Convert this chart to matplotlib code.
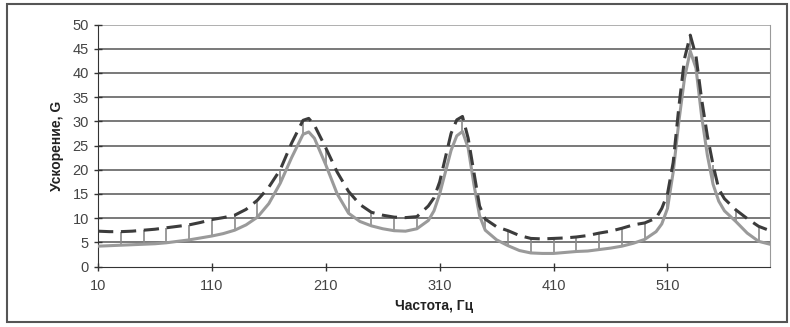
import matplotlib.pyplot as plt
from matplotlib.patches import Rectangle
import numpy as np

plt.rcParams['font.family'] = ['Liberation Sans', 'DejaVu Sans']

# frequency, Hz
freq = [10, 20, 30, 40, 50, 60, 70, 80, 90, 100, 110, 120, 130, 140, 150, 160,
        170, 180, 190, 195, 200, 210, 220, 230, 240, 250, 260, 270, 280, 290,
        300, 305, 310, 315, 320, 325, 330, 335, 340, 345, 350, 360, 370, 380,
        390, 400, 410, 420, 430, 440, 450, 460, 470, 480, 490, 500, 505, 510,
        515, 520, 525, 530, 535, 540, 545, 550, 555, 560, 570, 580, 590, 600]

# lower curve (solid grey)
accel_a = [4.2, 4.3, 4.4, 4.5, 4.6, 4.7, 4.9, 5.2, 5.5, 5.9, 6.3, 6.8, 7.5, 8.6, 10.2, 13.0,
           17.2, 22.5, 27.3, 27.8, 26.5, 21.0, 15.0, 11.0, 9.3, 8.4, 7.8, 7.4, 7.3, 7.8,
           9.5, 11.5, 15.0, 19.5, 24.0, 27.0, 27.9, 24.5, 17.0, 10.5, 7.5, 5.5, 4.3, 3.3,
           2.8, 2.7, 2.7, 2.9, 3.1, 3.2, 3.5, 3.8, 4.2, 4.8, 5.6, 7.2, 8.8, 12.0,
           19.5, 30.0, 39.0, 44.5, 41.0, 31.0, 23.0, 17.0, 13.5, 11.5, 9.3, 6.9, 5.2, 4.6]

# upper curve (dashed)
accel_b = [7.3, 7.2, 7.2, 7.3, 7.5, 7.7, 8.0, 8.3, 8.6, 9.1, 9.7, 10.1, 10.6, 11.8, 13.7, 16.4,
           20.0, 25.5, 30.2, 30.6, 29.2, 24.5, 19.5, 15.5, 12.8, 11.2, 10.6, 10.2, 10.1, 10.3,
           12.5, 14.2, 17.5, 22.5, 27.5, 30.3, 31.0, 26.5, 19.5, 12.5, 9.8, 8.2, 7.4, 6.4,
           5.8, 5.7, 5.8, 5.9, 6.1, 6.4, 6.9, 7.3, 7.9, 8.6, 9.0, 10.0, 12.0, 15.0,
           21.5, 33.0, 43.0, 47.8, 43.5, 34.5, 27.0, 21.0, 16.0, 14.0, 11.7, 9.9, 8.3, 7.4]

x_ticks = [10, 110, 210, 310, 410, 510]
y_ticks = list(range(0, 51, 5))

fig = plt.figure(figsize=(7.9, 3.27), dpi=100)
fig.patches.append(Rectangle((7 / 790, 5 / 327), 780 / 790, 318 / 327, transform=fig.transFigure,
                             fill=False, edgecolor='#555555', linewidth=1.5))
ax = fig.add_axes([98 / 790, (327 - 266.5) / 327, 672 / 790, 242 / 327])

for y in y_ticks[1:]:
    ax.axhline(y, color='#9a9a9a' if y == 50 else '#555555', linewidth=1.1, zorder=1)

# high-low lines every 20 Hz
fa = np.array(freq)
mask = (fa - 10) % 20 == 0
mask &= (fa > 10) & (fa < 600)
ax.vlines(fa[mask], np.array(accel_a)[mask], np.array(accel_b)[mask],
          color='#8a8a8a', linewidth=1.2, zorder=2)

ax.plot(freq, accel_a, color='#9a9a9a', linewidth=2.2, zorder=3)
ax.plot(freq, accel_b, color='#3c3c3c', linewidth=2.2, dashes=(5, 2.5), zorder=4)

ax.set_xlim(10, 600)
ax.set_ylim(0, 50)
ax.set_xticks(x_ticks)
ax.set_yticks(y_ticks)
ax.tick_params(axis='both', direction='inout', length=6, width=1, color='#333333',
               labelsize=10.5, labelcolor='#444444')
ax.tick_params(axis='x', pad=6)
for side in ['top']:
    ax.spines[side].set_visible(False)
ax.spines['right'].set_color('#9a9a9a')
ax.spines['left'].set_color('#333333')
ax.spines['bottom'].set_color('#333333')

ax.set_xlabel('Частота, Гц', fontsize=10, fontweight='bold', color='#222222', labelpad=4)
ax.set_ylabel('Ускорение, G', fontsize=10, fontweight='bold', color='#222222', labelpad=6)

fig.savefig('out.png', dpi=100)
